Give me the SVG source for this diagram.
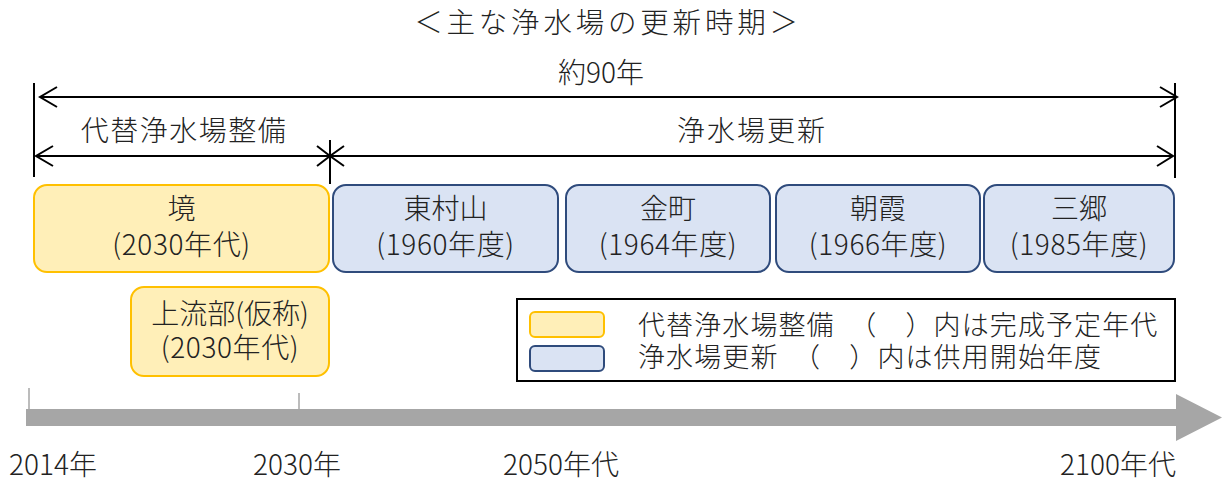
<svg xmlns="http://www.w3.org/2000/svg" width="1223" height="482" viewBox="0 0 1223 482">
<defs>
<style>
text{font-family:"Noto Sans CJK JP","Noto Sans",sans-serif;fill:#222;font-weight:300;}
.t{font-size:28px;}
.c{text-anchor:middle;}
.s{letter-spacing:0.6px;}
.yel{fill:#FFEFB8;stroke:#FFC000;stroke-width:2;}
.blu{fill:#DAE3F3;stroke:#2F4B7C;stroke-width:2;}
.ln{stroke:#000;stroke-width:2;fill:none;}
.ax{stroke:#A6A6A6;stroke-width:1.5;}
</style>
</defs>
<rect width="1223" height="482" fill="#fff"/>
<text x="608" y="33" class="c" style="font-size:28.5px;letter-spacing:3.8px">＜主な浄水場の更新時期＞</text>

<g id="connectors">
<line class="ln" x1="34" y1="83" x2="34" y2="177"/>
<line class="ln" x1="1175" y1="83" x2="1175" y2="178"/>
<line class="ln" x1="330" y1="140" x2="330" y2="184"/>
<line class="ln" x1="40" y1="97" x2="1177" y2="97"/>
<line class="ln" x1="36" y1="156" x2="1173" y2="156"/>
<polyline class="ln" points="57,87 40,97 57,107"/>
<polyline class="ln" points="1160,87 1177,97 1160,107"/>
<polyline class="ln" points="53,146 36,156 53,166"/>
<polyline class="ln" points="1157,146 1173,156 1157,166"/>
<polyline class="ln" points="317,146 330,156 317,166"/>
<polyline class="ln" points="344,146 330,156 344,166"/>
</g>
<text x="601" y="83" class="t c">約90年</text>
<text x="184" y="141" class="t c" style="letter-spacing:1.5px">代替浄水場整備</text>
<text x="752" y="141" class="t c" style="letter-spacing:2px">浄水場更新</text>

<g id="sakai">
<rect class="yel" x="34" y="185" width="295" height="87" rx="13"/>
<text class="t c"><tspan x="181.5" y="219">境</tspan><tspan class="s" x="181.5" y="255">(2030年代)</tspan></text>
</g>
<g id="joryubu">
<rect class="yel" x="131" y="287" width="198" height="89" rx="13"/>
<text class="t c"><tspan x="230" y="324">上流部(仮称)</tspan><tspan class="s" x="230" y="358">(2030年代)</tspan></text>
</g>
<g id="higashimurayama">
<rect class="blu" x="333" y="185" width="225" height="87" rx="13"/>
<text class="t c"><tspan x="445.5" y="219">東村山</tspan><tspan class="s" x="445.5" y="255">(1960年度)</tspan></text>
</g>
<g id="kanamachi">
<rect class="blu" x="566" y="185" width="204" height="87" rx="13"/>
<text class="t c"><tspan x="668" y="219">金町</tspan><tspan class="s" x="668" y="255">(1964年度)</tspan></text>
</g>
<g id="asaka">
<rect class="blu" x="776" y="185" width="204" height="87" rx="13"/>
<text class="t c"><tspan x="878" y="219">朝霞</tspan><tspan class="s" x="878" y="255">(1966年度)</tspan></text>
</g>
<g id="misato">
<rect class="blu" x="984" y="185" width="190" height="87" rx="13"/>
<text class="t c"><tspan x="1079" y="219">三郷</tspan><tspan class="s" x="1079" y="255">(1985年度)</tspan></text>
</g>

<g id="legend">
<rect x="517" y="299" width="658" height="82" fill="#fff" stroke="#000" stroke-width="2"/>
<rect class="yel" x="530" y="312" width="74" height="25" rx="5"/>
<rect class="blu" x="530" y="346" width="74" height="25" rx="5"/>
<text style="font-size:27px;letter-spacing:1.1px"><tspan x="638" y="335">代替浄水場整備　（　）内は完成予定年代</tspan><tspan x="638" y="367">浄水場更新　（　）内は供用開始年度</tspan></text>
</g>

<g id="timeline">
<polygon points="26,409 1176,409 1176,394 1222,417.5 1176,441 1176,426 26,426" fill="#A6A6A6"/>
<line class="ax" x1="29" y1="388" x2="29" y2="409"/>
<line class="ax" x1="299" y1="393" x2="299" y2="409"/>
<text x="9" y="475" class="t">2014年</text>
<text x="253" y="475" class="t">2030年</text>
<text x="503" y="475" class="t">2050年代</text>
<text x="1060" y="475" class="t">2100年代</text>
</g>
</svg>
